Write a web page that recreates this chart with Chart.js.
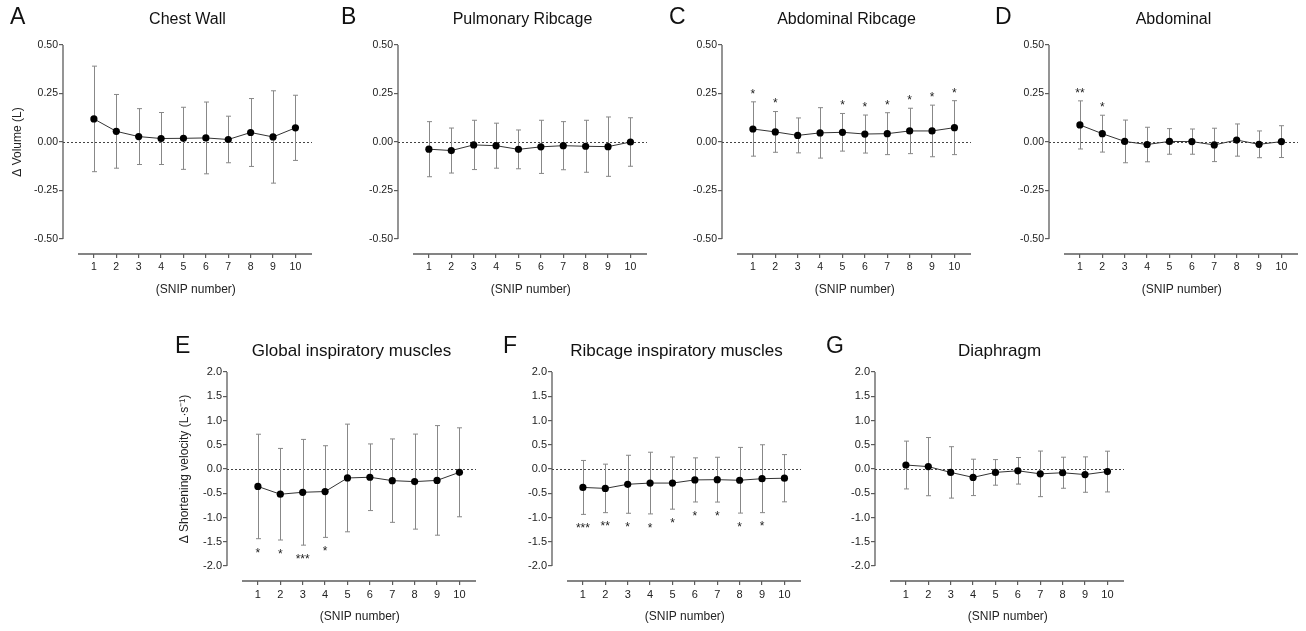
<!DOCTYPE html>
<html>
<head>
<meta charset="utf-8">
<script src="https://cdn.jsdelivr.net/npm/chart.js@4.4.1/dist/chart.umd.min.js"></script>
<style>
  html, body { margin: 0; padding: 0; background: #fff; }
  body { width: 1306px; height: 631px; overflow: hidden; position: relative;
         font-family: 'Liberation Sans', Arial, sans-serif; }
  canvas { position: absolute; }
  .tag { position: absolute; font-size: 23px; line-height: 23px; color: #111; }
</style>
</head>
<body>
<script>
// ---- data -------------------------------------------------------------
const snip = [1, 2, 3, 4, 5, 6, 7, 8, 9, 10];

const volumeTicks   = ['0.50', '0.25', '0.00', '-0.25', '-0.50'];
const velocityTicks = ['2.0', '1.5', '1.0', '0.5', '0.0', '-0.5', '-1.0', '-1.5', '-2.0'];

// Δ volume (L), mean and SD per SNIP
const chestWallMean = [0.119, 0.055, 0.028, 0.018, 0.019, 0.021, 0.013, 0.049, 0.026, 0.073];
const chestWallSD   = [0.272, 0.190, 0.144, 0.134, 0.160, 0.185, 0.120, 0.175, 0.238, 0.168];

const pulmRibcageMean = [-0.037, -0.044, -0.015, -0.019, -0.038, -0.025, -0.019, -0.022, -0.024, 0.000];
const pulmRibcageSD   = [0.142, 0.116, 0.127, 0.116, 0.100, 0.137, 0.124, 0.134, 0.153, 0.125];

const abdRibcageMean = [0.067, 0.052, 0.034, 0.047, 0.050, 0.041, 0.043, 0.057, 0.057, 0.074];
const abdRibcageSD   = [0.140, 0.105, 0.090, 0.130, 0.097, 0.098, 0.108, 0.117, 0.133, 0.139];
const abdRibcageSig  = ['*', '*', '', '', '*', '*', '*', '*', '*', '*'];

const abdominalMean = [0.088, 0.043, 0.003, -0.013, 0.003, 0.002, -0.015, 0.010, -0.012, 0.002];
const abdominalSD   = [0.124, 0.095, 0.110, 0.089, 0.066, 0.065, 0.086, 0.083, 0.069, 0.082];
const abdominalSig  = ['**', '*', '', '', '', '', '', '', '', ''];

// Δ shortening velocity (L·s⁻¹), mean and SD per SNIP
const globalInspMean = [-0.36, -0.52, -0.48, -0.465, -0.185, -0.17, -0.24, -0.26, -0.235, -0.068];
const globalInspSD   = [1.077, 0.944, 1.090, 0.945, 1.110, 0.687, 0.860, 0.980, 1.130, 0.917];
const globalInspSig  = ['*', '*', '***', '*', '', '', '', '', '', ''];

const ribcageInspMean = [-0.38, -0.40, -0.315, -0.29, -0.29, -0.225, -0.22, -0.232, -0.20, -0.19];
const ribcageInspSD   = [0.556, 0.500, 0.598, 0.636, 0.538, 0.455, 0.462, 0.677, 0.700, 0.487];
const ribcageInspSig  = ['***', '**', '*', '*', '*', '*', '*', '*', '*', ''];

const diaphragmMean = [0.082, 0.049, -0.07, -0.173, -0.07, -0.037, -0.10, -0.077, -0.115, -0.053];
const diaphragmSD   = [0.493, 0.600, 0.530, 0.375, 0.264, 0.274, 0.470, 0.320, 0.365, 0.420];

// ---- layout ------------------------------------------------------------
const FONT = "'Liberation Sans', Arial, sans-serif";
const Y_W = 62;        // room left of the plot for y ticks and title
const X_H = 50;        // room below the plot for x ticks and title
const TITLE_H = 45;    // room above the plot for the panel title
const AREA_W = 249;
const AREA_H = 209;
const R_PAD = 8;
const AXIS_GAP = 15;   // detached x axis sits this far below the lowest y tick
const X_MIN = -0.38, X_MAX = 10.74, X_AXIS_START = 0.29;
const AXIS_COLOR = '#5c5c5c';
const STAR_SIZE = 12, STAR_GAP = 11;

const rows = [
  { areaTop: 45,  titleSize: 16, titlePadTop: 10.4, tickSize: 10.5, yTitleOffset: 45 },
  { areaTop: 372, titleSize: 17, titlePadTop: 13.8, tickSize: 11,   yTitleOffset: 42 }
];

const panels = [
  { tag: 'A', tagX: 10,  title: 'Chest Wall',        row: 0, axisX: 63,   mean: chestWallMean,   sd: chestWallSD,   ticks: volumeTicks, yTitle: 'Δ Volume (L)' },
  { tag: 'B', tagX: 341, title: 'Pulmonary Ribcage', row: 0, axisX: 398,  mean: pulmRibcageMean, sd: pulmRibcageSD, ticks: volumeTicks },
  { tag: 'C', tagX: 669, title: 'Abdominal Ribcage', row: 0, axisX: 722,  mean: abdRibcageMean,  sd: abdRibcageSD,  ticks: volumeTicks, sig: abdRibcageSig, sigSide: 'above' },
  { tag: 'D', tagX: 995, title: 'Abdominal',         row: 0, axisX: 1049, mean: abdominalMean,   sd: abdominalSD,   ticks: volumeTicks, sig: abdominalSig, sigSide: 'above' },
  { tag: 'E', tagX: 175, title: 'Global inspiratory muscles',  row: 1, axisX: 227, mean: globalInspMean,  sd: globalInspSD,  ticks: velocityTicks, sig: globalInspSig, sigSide: 'below', yTitle: 'Δ Shortening velocity (L·s⁻¹)' },
  { tag: 'F', tagX: 503, title: 'Ribcage inspiratory muscles', row: 1, axisX: 552, mean: ribcageInspMean, sd: ribcageInspSD, ticks: velocityTicks, sig: ribcageInspSig, sigSide: 'below' },
  { tag: 'G', tagX: 826, title: 'Diaphragm',                   row: 1, axisX: 875, mean: diaphragmMean,   sd: diaphragmSD,   ticks: velocityTicks }
];

function decorPlugin(p, hi, lo, row) {
  return {
    id: 'panelDecor',
    beforeDatasetsDraw(chart) {
      const { ctx, chartArea: a, scales: { x, y } } = chart;
      ctx.save();
      // detached axis lines
      ctx.strokeStyle = AXIS_COLOR;
      ctx.lineWidth = 1.3;
      ctx.beginPath();
      ctx.moveTo(a.left, y.getPixelForValue(hi));
      ctx.lineTo(a.left, y.getPixelForValue(lo));
      ctx.moveTo(x.getPixelForValue(X_AXIS_START), a.bottom);
      ctx.lineTo(a.right, a.bottom);
      ctx.stroke();
      // zero reference line
      const y0 = Math.round(y.getPixelForValue(0)) + 0.5;
      ctx.strokeStyle = '#444';
      ctx.lineWidth = 1;
      ctx.setLineDash([2, 2]);
      ctx.beginPath();
      ctx.moveTo(a.left, y0);
      ctx.lineTo(a.right, y0);
      ctx.stroke();
      ctx.setLineDash([]);
      // mean ± SD whiskers
      ctx.strokeStyle = '#888';
      ctx.lineWidth = 1;
      p.mean.forEach((m, i) => {
        const px = Math.round(x.getPixelForValue(snip[i])) + 0.5;
        const top = y.getPixelForValue(m + p.sd[i]);
        const bot = y.getPixelForValue(m - p.sd[i]);
        ctx.beginPath();
        ctx.moveTo(px, top); ctx.lineTo(px, bot);
        ctx.moveTo(px - 2.5, top); ctx.lineTo(px + 2.5, top);
        ctx.moveTo(px - 2.5, bot); ctx.lineTo(px + 2.5, bot);
        ctx.stroke();
      });
      ctx.restore();
    },
    afterDatasetsDraw(chart) {
      const { ctx, chartArea: a, scales: { x, y } } = chart;
      ctx.save();
      ctx.fillStyle = '#222';
      // significance marks
      if (p.sig) {
        ctx.font = STAR_SIZE + 'px ' + FONT;
        ctx.textAlign = 'center';
        ctx.textBaseline = 'alphabetic';
        p.sig.forEach((s, i) => {
          if (!s) return;
          const up = p.sigSide === 'above';
          const end = up ? p.mean[i] + p.sd[i] : p.mean[i] - p.sd[i];
          const cy = y.getPixelForValue(end) + (up ? -STAR_GAP : STAR_GAP);
          ctx.fillText(s, x.getPixelForValue(snip[i]), cy + STAR_SIZE * 0.57);
        });
      }
      // x axis title
      ctx.font = '12px ' + FONT;
      ctx.textAlign = 'center';
      ctx.textBaseline = 'middle';
      ctx.fillText('(SNIP number)', x.getPixelForValue(5.55), a.bottom + 36);
      // y axis title
      if (p.yTitle) {
        ctx.translate(a.left - row.yTitleOffset, y.getPixelForValue((hi + lo) / 2));
        ctx.rotate(-Math.PI / 2);
        ctx.fillText(p.yTitle, 0, 0);
      }
      ctx.restore();
    }
  };
}

function makePanel(p) {
  const row = rows[p.row];
  const W = Y_W + AREA_W + R_PAD;
  const H = TITLE_H + AREA_H + X_H;
  const cv = document.createElement('canvas');
  cv.width = W; cv.height = H;
  cv.style.width = W + 'px'; cv.style.height = H + 'px';
  cv.style.left = (p.axisX - Y_W) + 'px';
  cv.style.top = (row.areaTop - TITLE_H) + 'px';
  document.body.appendChild(cv);

  const tag = document.createElement('div');
  tag.className = 'tag';
  tag.textContent = p.tag;
  tag.style.left = p.tagX + 'px';
  tag.style.top = (row.areaTop - TITLE_H + (p.row === 0 ? 5 : 7)) + 'px';
  document.body.appendChild(tag);

  const tickVals = p.ticks.map(Number);
  const hi = Math.max(...tickVals), lo = Math.min(...tickVals);
  const yMin = lo - AXIS_GAP * (hi - lo) / (AREA_H - AXIS_GAP);
  const lineH = row.titleSize * 1.2;

  new Chart(cv, {
    type: 'line',
    data: {
      datasets: [{
        data: snip.map((s, i) => ({ x: s, y: p.mean[i] })),
        borderColor: '#333',
        borderWidth: 1,
        pointRadius: 3.6,
        pointHoverRadius: 3.6,
        pointBackgroundColor: '#000',
        pointBorderWidth: 0,
        tension: 0,
        clip: false
      }]
    },
    options: {
      responsive: false,
      animation: false,
      devicePixelRatio: 1,
      events: [],
      layout: { padding: { left: 0, top: 0, right: R_PAD, bottom: 0 } },
      plugins: {
        legend: { display: false },
        tooltip: { enabled: false },
        title: {
          display: true,
          text: p.title,
          fullSize: false,
          color: '#111',
          font: { family: FONT, size: row.titleSize, weight: 'normal', lineHeight: 1.2 },
          padding: { top: row.titlePadTop, bottom: TITLE_H - row.titlePadTop - lineH }
        }
      },
      scales: {
        x: {
          type: 'linear',
          min: X_MIN,
          max: X_MAX,
          afterBuildTicks: s => { s.ticks = snip.map(v => ({ value: v })); },
          afterFit: s => { s.height = X_H; },
          border: { display: false },
          grid: { drawOnChartArea: false, drawTicks: true, tickLength: 4, color: AXIS_COLOR, lineWidth: 1.2 },
          ticks: { font: { family: FONT, size: row.tickSize }, color: '#222', padding: 3,
                   maxRotation: 0, autoSkip: false, callback: v => String(v) }
        },
        y: {
          min: yMin,
          max: hi,
          afterBuildTicks: s => { s.ticks = tickVals.map(v => ({ value: v })); },
          afterFit: s => { s.width = Y_W; },
          border: { display: false },
          grid: { drawOnChartArea: false, drawTicks: true, tickLength: 4, color: AXIS_COLOR, lineWidth: 1.2 },
          ticks: { font: { family: FONT, size: row.tickSize }, color: '#222', padding: 1,
                   callback: v => p.ticks[tickVals.findIndex(t => Math.abs(t - v) < 1e-9)] }
        }
      }
    },
    plugins: [decorPlugin(p, hi, lo, row)]
  });
}

panels.forEach(makePanel);
</script>
</body>
</html>
